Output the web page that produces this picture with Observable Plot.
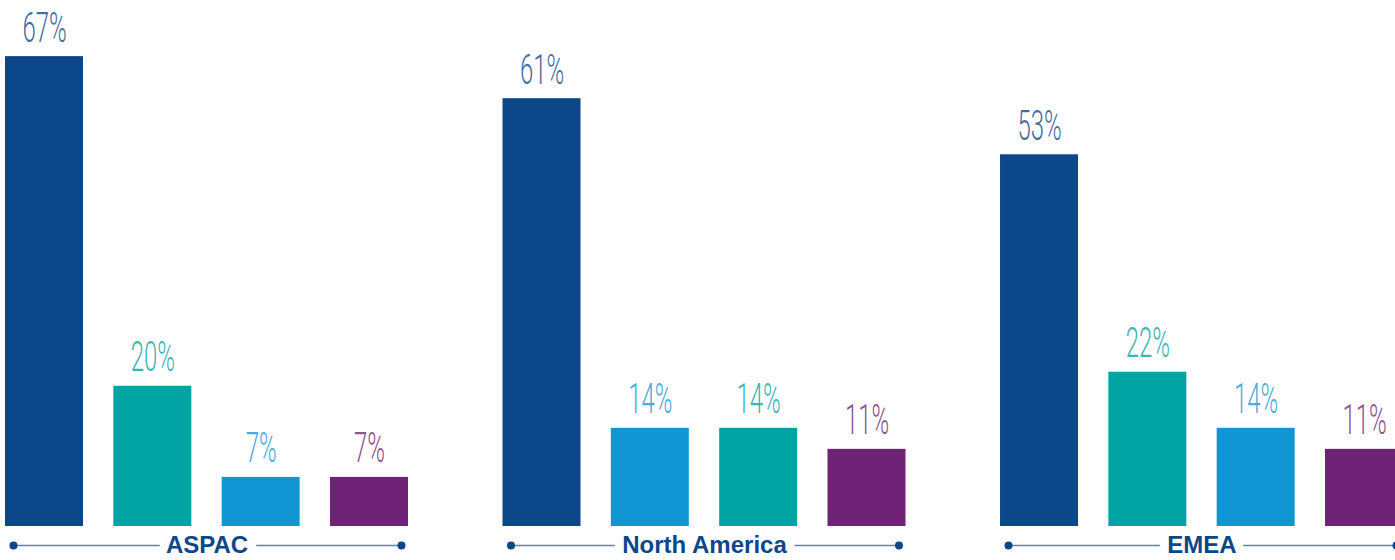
<!DOCTYPE html>
<html>
<head>
<meta charset="utf-8">
<script src="https://cdn.jsdelivr.net/npm/d3@7"></script>
<script src="https://cdn.jsdelivr.net/npm/@observablehq/plot@0.6"></script>
<style>
  html, body { margin: 0; padding: 0; background: #fff; overflow: hidden; }
  #chart { width: 1410px; }
</style>
</head>
<body>
<div id="chart"></div>
<script>
// ---- data ----
const regions = ["ASPAC", "North America", "EMEA"];
const slots = ["1", "2", "3", "4"];
const seriesKeys = ["Series A", "Series B", "Series C", "Series D"];
const seriesColors = ["#0b4789", "#00a4a2", "#1196d3", "#6f2376"];
const aspacSeries = ["Series A", "Series B", "Series C", "Series D"];
const aspacValues = [67, 20, 7, 7];
const northAmericaSeries = ["Series A", "Series C", "Series B", "Series D"];
const northAmericaValues = [61, 14, 14, 11];
const emeaSeries = ["Series A", "Series B", "Series C", "Series D"];
const emeaValues = [53, 22, 14, 11];

const groupSeries = [aspacSeries, northAmericaSeries, emeaSeries];
const groupValues = [aspacValues, northAmericaValues, emeaValues];

const rows = regions.flatMap((region, g) =>
  slots.map((slot, i) => ({
    region, slot, series: groupSeries[g][i], value: groupValues[g][i]
  }))
);

const lineColor = "#5a83b8";
const darkBlue = "#0b4789";

const chart = Plot.plot({
  width: 1410,
  height: 560,
  marginLeft: 5,
  marginRight: 7,
  marginTop: 0,
  marginBottom: 34,
  fx: { domain: regions, paddingInner: 0.19, paddingOuter: 0, round: false, axis: null, label: null },
  x: { domain: slots, paddingInner: 0.28, paddingOuter: 0, round: false, axis: null, label: null },
  y: { domain: [0, 75], axis: null, label: null },
  color: { domain: seriesKeys, range: seriesColors },
  style: { background: "white" },
  marks: [
    Plot.barY(rows, { fx: "region", x: "slot", y: "value", fill: "series" }),
    Plot.text(rows, {
      fx: "region", x: "slot", y: "value",
      text: d => `${d.value}%`,
      fill: "series",
      fillOpacity: 0.8,
      dy: -15,
      lineAnchor: "bottom",
      textAnchor: "middle",
      fontFamily: "Roboto, 'Open Sans', sans-serif",
      fontWeight: 300,
      fontSize: 42
    }),
    Plot.ruleY([0], {
      dy: 19, insetLeft: 8, insetRight: 7,
      stroke: lineColor, strokeWidth: 1.5
    }),
    Plot.dot([slots[0]], { x: d => d, frameAnchor: "bottom", dx: -31, dy: 19, r: 4, fill: darkBlue, stroke: "none" }),
    Plot.dot([slots[3]], { x: d => d, frameAnchor: "bottom", dx: 32, dy: 19, r: 4, fill: darkBlue, stroke: "none" }),
    Plot.text(regions, {
      fx: d => d,
      text: d => d,
      frameAnchor: "bottom",
      dy: 19,
      lineAnchor: "middle",
      textAnchor: "middle",
      fill: darkBlue,
      stroke: "white",
      strokeWidth: 18,
      paintOrder: "stroke",
      fontFamily: "'Liberation Sans', Arial, sans-serif",
      fontWeight: "bold",
      fontSize: 24
    })
  ]
});

document.getElementById("chart").appendChild(chart);

// condense the light value labels horizontally
d3.select(chart).selectAll("text").each(function () {
  if (!/%$/.test(this.textContent)) return;
  let t = this.getAttribute("transform");
  if (!t) {
    const x = this.getAttribute("x") || 0, y = this.getAttribute("y") || 0;
    this.removeAttribute("x"); this.removeAttribute("y");
    t = `translate(${x},${y})`;
  }
  this.setAttribute("transform", t + " scale(0.57,1)");
});
</script>
</body>
</html>
